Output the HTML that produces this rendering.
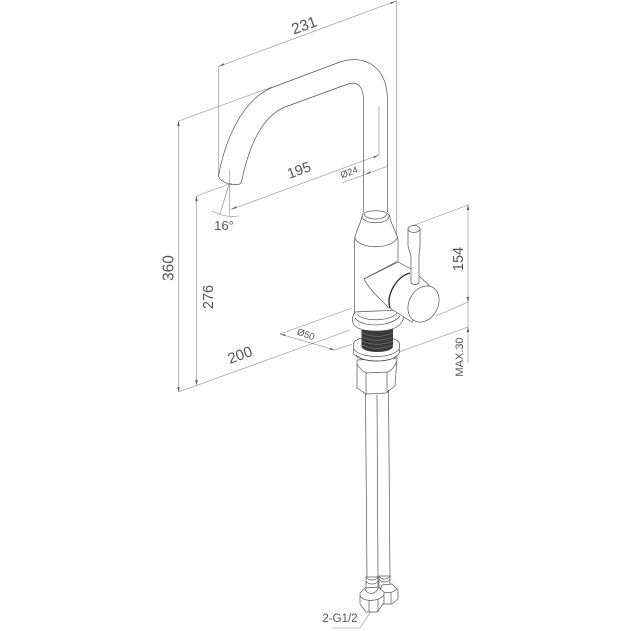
<!DOCTYPE html>
<html><head><meta charset="utf-8"><style>
html,body{margin:0;padding:0;background:#fff}
svg{display:block}
text{font-family:"Liberation Sans",sans-serif;fill:#555}
.d{stroke:#888;stroke-width:.6;fill:none}
.o{stroke:#555;stroke-width:.7;fill:none}
.w{stroke:#555;stroke-width:.7;fill:#fff}
.a{fill:#555;stroke:none}
</style></head><body>
<svg width="631" height="631" viewBox="0 0 631 631" xmlns="http://www.w3.org/2000/svg">
<!-- dimension lines -->
<path class="d" d="M218.5 66.5L396 1M396.7 0V260M218.5 66.5V176"/>
<path class="d" d="M178.5 121L272 87M178.5 121V392M178.5 392L350 330"/>
<path class="d" d="M196.5 196L232 183M196.5 196V385"/>
<path class="d" d="M379 106V155M379 155L231 209.5M229.5 170V216M229 184L220 214"/>
<path class="d" d="M212 211Q225 218 239 216"/>
<path class="d" d="M342 183L388 166"/>
<path class="d" d="M280 334L352 308M280 334L335 350L352 344"/>
<path class="d" d="M468 204V363M468 205L412 226M468 302L436 316M468 327L399 352"/>
<path class="d" d="M373 608L360 628H332"/>
<path class="a" d="M218.5 66.5l5-3.2.7 1.7zM396 1l-5 3.2-.7-1.7zM178.5 121l-1.2 5h2.4zM178.5 392l-1.2-5h2.4zM196.5 196l-1.2 5h2.4zM196.5 385l-1.2-5h2.4zM379 155l-5 3.2-.7-1.7zM231 209.5l5-3.2.7 1.7zM365 174.5l5-3.2.7 1.7zM280 334l5.5 .4-.5 1.7zM335 350l-5.5-.4.5-1.7zM468 205l-1.2 5h2.4zM468 302l-1.2-5h2.4zM468 327l-1.2 5h2.4z"/>
<!-- spout -->
<path class="o" d="M218.5 176C224 145 240 101 272 87.5L340 62C360 55 387 62 387.5 100V212"/>
<path class="o" d="M241.5 182C247 155 258 118 285 107L348 84C357 81 363.5 86 363.5 100V212"/>
<path class="o" d="M218.5 176C219 180 226 184 233 184.5C238 185 241 184 241.5 182"/>
<!-- body -->
<path class="w" d="M362.5 215C360 226 355 232 354.5 240V316H398V240C397 232 391 226 389.5 215Z"/>
<path class="o" d="M354.5 237C358 250 393 250 397.5 237"/>
<path class="w" d="M362 216C362 209 389 209 389 216C389 225 362 225 362 216Z"/>
<path class="o" d="M364 213C364 221 387 221 387 213"/>
<!-- hex nut -->
<path class="w" d="M357 360V388L366 394L386 393L395 386L397 358Z"/>
<path class="o" d="M357 364C360 369 364 372 366 373L388 372C392 370 395 366 397 361M366 373V394M387 372V393"/>
<!-- washer -->
<path class="w" d="M353.5 344V352C355 364 398 364 399.5 352V344C399 334 354 334 353.5 344Z"/>
<path class="o" d="M354 349C360 359 393 359 399 349M356 355C362 363 392 363 397 355"/>
<!-- thread -->
<path d="M361.5 328V346C361.5 354 393 354 393 346V328Z" fill="#3a3a3a"/>
<path d="M362 333Q377 340 393 333M362 337Q377 344 393 337M362 341Q377 348 393 341M362 345Q377 352 393 345" stroke="#888" stroke-width=".5" fill="none"/>
<!-- flange -->
<path class="w" d="M353 316C351 324 354 331 377 331C398 331 405 322 403 314L398 310L355 312Z"/>
<path class="o" d="M355 318C362 328 392 327 400 316M357 314C362 322 392 322 398 312"/>
<!-- hoses -->
<path class="o" d="M365.5 394L367 578M377 395L378 578M388.5 390L390 578"/>
<!-- connectors -->
<path class="w" d="M379 576H390V588H379Z"/>
<path class="o" d="M379 579C381 583 388 583 390 579M379 576C381 580 388 580 390 576"/>
<path class="w" d="M382 585L392 584L398 590V599L392 604L382 604L378 597Z"/>
<path class="o" d="M380 589C384 594 392 594 397 589M391 593V604"/>
<path class="w" d="M366 577H378V592H366Z"/>
<path class="o" d="M366 581C368 585 376 585 378 581M366 577C368 581 376 581 378 577"/>
<path class="w" d="M365 588L378 587L384 592L384 603L377 612L366 612L360 604L360 593Z"/>
<path class="o" d="M360 596C364 602 378 602 384 595M369 600V612M378 599V612M365 589C367 595 376 595 378 588"/>
<!-- lever handle cylinder -->
<path class="w" d="M364 279L398 262L411 269L429 285L412 322L388 307C380 299 368 288 364 279Z"/>
<path class="o" d="M364 279L397 261.5" stroke-width="1.1"/>
<path d="M410 273C396 277 386 295 390 308" stroke="#333" stroke-width="1.4" fill="none"/>
<ellipse class="w" cx="423.5" cy="304" rx="14.5" ry="19" transform="rotate(28 423.5 304)"/>
<!-- lever -->
<path class="w" d="M408 229V246L411 256V283C413 285 417 285 419 283V256L420 246V229Z"/>
<ellipse class="w" cx="414" cy="229" rx="6" ry="3.5"/>
<!-- labels -->
<text x="304" y="30.5" font-size="15.5" text-anchor="middle" transform="rotate(-20 304 25)">231</text>
<text x="299" y="175" font-size="14.5" text-anchor="middle" transform="rotate(-20 299 170)">195</text>
<text x="349" y="175.5" font-size="9.5" text-anchor="middle" transform="rotate(-20 349 172)">Ø24</text>
<text x="224" y="230" font-size="13" text-anchor="middle">16°</text>
<text x="168" y="273.5" font-size="15.5" text-anchor="middle" transform="rotate(-90 168 268)">360</text>
<text x="208" y="302" font-size="14.5" text-anchor="middle" transform="rotate(-90 208 297)">276</text>
<text x="240" y="360" font-size="15" text-anchor="middle" transform="rotate(-20 240 355)">200</text>
<text x="306" y="337.5" font-size="9.5" text-anchor="middle" transform="rotate(20 306 334)">Ø50</text>
<text x="458" y="264" font-size="14.5" text-anchor="middle" transform="rotate(-90 458 259)">154</text>
<text x="459" y="361" font-size="11" text-anchor="middle" transform="rotate(-90 459 357)">MAX.30</text>
<text x="340" y="622" font-size="11.5" text-anchor="middle">2-G1/2</text>
</svg>
</body></html>
